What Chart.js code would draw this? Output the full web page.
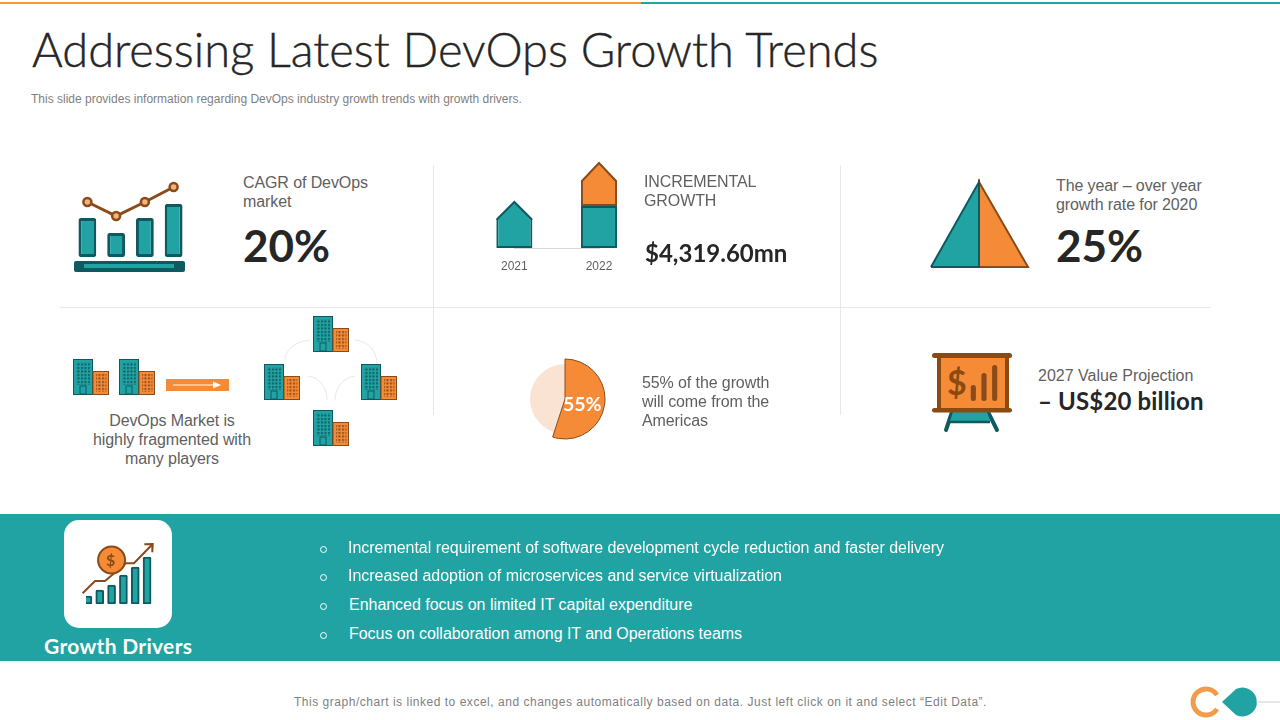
<!DOCTYPE html>
<html>
<head>
<meta charset="utf-8">
<title>Addressing Latest DevOps Growth Trends</title>
<script src="https://cdn.jsdelivr.net/npm/chart.js@4"></script>
<style>
  html, body { margin: 0; padding: 0; background: #fff; }
  #slide { position: relative; width: 1280px; height: 720px; overflow: hidden; font-family: "Liberation Sans", Arial, sans-serif; color: #5f5f5f; }
  #slide > div, #slide > canvas, #slide > svg { position: absolute; }
  .label { font-size: 16px; line-height: 19px; white-space: nowrap; letter-spacing: -0.1px; }
  .big { font-family: Lato, sans-serif; font-weight: 700; color: #262626; white-space: nowrap; }
  .bullet { color: #fff; font-size: 16px; line-height: 20px; white-space: nowrap; letter-spacing: -0.03px; }
  .dot { width: 5px; height: 5px; border: 1px solid #fff; border-radius: 50%; }
</style>
</head>
<body>
<div id="slide">
  <svg width="1280" height="720" style="left:0;top:0">
    <defs>
      <pattern id="winTeal" width="3.5" height="3.5" patternUnits="userSpaceOnUse"><rect x="1" y="1" width="2" height="2" fill="#0f5a60"/></pattern>
      <pattern id="winOrange" width="3.5" height="3.5" patternUnits="userSpaceOnUse"><rect x="1" y="1" width="2" height="2" fill="#8a4a1a"/></pattern>
      <symbol id="building" viewBox="0 0 36 36" width="36" height="36" overflow="visible">
        <rect x="0.5" y="0.5" width="19" height="35" fill="#21a3a3" stroke="#0f5a60"/>
        <rect x="3" y="3" width="14" height="23" fill="url(#winTeal)"/>
        <rect x="7" y="27" width="6" height="8" fill="#21a3a3" stroke="#0f5a60"/>
        <rect x="20" y="12.5" width="15.5" height="23" fill="#f68b37" stroke="#8a4a1a"/>
        <rect x="23" y="15" width="10.5" height="18" fill="url(#winOrange)"/>
      </symbol>
    </defs>
    <rect x="0" y="2" width="641" height="2" fill="#f29b3a"/>
    <rect x="641" y="2" width="639" height="2" fill="#21a3a3"/>
    <g stroke="#e8e8e8" stroke-width="1" fill="none">
      <path d="M433.5 165V415M840.5 165V415M60 307.5H1210"/>
    </g>
    <rect x="74" y="261" width="111" height="11" rx="2" fill="#0f5a60"/>
    <rect x="84" y="264" width="90" height="4" fill="#21a3a3"/>
    <!-- fragmented market -->
    <use href="#building" x="73" y="359"/>
    <use href="#building" x="119" y="359"/>
    <rect x="166" y="379" width="63" height="12" fill="#f68b37"/>
    <path d="M173 385H218" stroke="#fff" stroke-width="1"/>
    <path d="M213 381.5L221 385L213 388.5Z" fill="#fff"/>
    <use href="#building" x="313" y="316"/>
    <use href="#building" x="264" y="364"/>
    <use href="#building" x="361" y="364"/>
    <use href="#building" x="313" y="410"/>
    <g stroke="#e8e8e8" stroke-width="1" fill="none">
      <path d="M285 360C285 350 296 341 310 340M355 340C368 341 376 350 377 363"/>
      <path d="M308 376C322 378 327 390 327 400M355 376C341 378 335 390 335 400"/>
    </g>
    <!-- easel -->
    <path d="M952 412L946 430M988 412L997 430" stroke="#0f5a60" stroke-width="4" stroke-linecap="round"/>
    <path d="M953 412H987L990 421H950Z" fill="#21a3a3"/>
    <path d="M950 422H990" stroke="#0f5a60" stroke-width="2.5"/>
    <rect x="939" y="355" width="68" height="55" fill="#f68b37" stroke="#8a4a12" stroke-width="4"/>
    <rect x="932" y="353" width="80" height="5" rx="2.5" fill="#8a4a12"/>
    <rect x="932" y="408" width="80" height="4.5" rx="2.25" fill="#8a4a12"/>
    <!-- teal band -->
    <rect x="0" y="514" width="1280" height="147" fill="#21a3a3"/>
    <rect x="64" y="520" width="108" height="108" rx="15" fill="#fff"/>
    <!-- logo -->
    <path d="M1217 695A13 13 0 1 0 1217 709" fill="none" stroke="#f29b4a" stroke-width="5"/>
    <path d="M1222 702L1236 689A14.5 14.5 0 1 1 1236 715Z" fill="#21a3a3"/>
    <path d="M1256 702H1280" stroke="#ccc" stroke-width="1"/>
  </svg>

  <div style="left:32px;top:21px;font:300 47px/56px Lato,sans-serif;color:#262626;white-space:nowrap;-webkit-text-stroke:0.4px #262626">Addressing Latest DevOps Growth Trends</div>
  <div style="left:31px;top:92px;font-size:12px;line-height:14px;color:#7f7f7f;white-space:nowrap">This slide provides information regarding DevOps industry growth trends with growth drivers.</div>

  <canvas id="cagrChart" width="115" height="80" style="left:72.5px;top:177px"></canvas>
  <div class="label" style="left:243px;top:173px">CAGR of DevOps<br>market</div>
  <div class="big" style="left:243px;top:217px;font-size:44px;line-height:56px">20%</div>

  <canvas id="incrementChart" width="215" height="129" style="left:490px;top:156px"></canvas>
  <div class="label" style="left:644px;top:172px">INCREMENTAL<br>GROWTH</div>
  <div class="big" style="left:645px;top:238px;font-size:24px;line-height:30px">$4,319.60mn</div>

  <canvas id="triangleChart" width="108" height="94" style="left:926px;top:177px"></canvas>
  <div class="label" style="left:1056px;top:176px">The year – over year<br>growth rate for 2020</div>
  <div class="big" style="left:1056px;top:217px;font-size:44px;line-height:56px">25%</div>

  <div class="label" style="left:72px;top:411px;width:200px;text-align:center">DevOps Market is<br>highly fragmented with<br>many players</div>

  <canvas id="shareBack" width="90" height="90" style="left:520px;top:354px"></canvas>
  <canvas id="shareFront" width="90" height="90" style="left:520px;top:354px"></canvas>
  <div style="left:563px;top:392px;font:700 19.5px/24px Lato,sans-serif;color:#fff">55%</div>
  <div class="label" style="left:642px;top:373px">55% of the growth<br>will come from the<br>Americas</div>

  <canvas id="easelChart" width="32" height="38" style="left:968px;top:363px"></canvas>
  <div style="left:947px;top:363px;font:700 34px/38px Lato,sans-serif;color:#8a4a12">$</div>
  <div class="label" style="left:1038px;top:366px;letter-spacing:0">2027 Value Projection</div>
  <div class="big" style="left:1038px;top:386px;font-size:24px;line-height:30px;letter-spacing:0.15px">– US$20 billion</div>

  <canvas id="driversChart" width="108" height="108" style="left:64px;top:520px"></canvas>
  <div style="left:106px;top:550px;font:700 16px/20px Lato,sans-serif;color:#8a4a12">$</div>
  <div style="left:44px;top:632px;font:700 21px/28px Lato,sans-serif;color:#fff;white-space:nowrap;letter-spacing:0.3px">Growth Drivers</div>

  <div class="dot" style="left:320px;top:546px"></div>
  <div class="bullet" style="left:348px;top:538px">Incremental requirement of software development cycle reduction and faster delivery</div>
  <div class="dot" style="left:320px;top:574px"></div>
  <div class="bullet" style="left:348px;top:566px">Increased adoption of microservices and service virtualization</div>
  <div class="dot" style="left:320px;top:603px"></div>
  <div class="bullet" style="left:349px;top:595px">Enhanced focus on limited IT capital expenditure</div>
  <div class="dot" style="left:320px;top:632px"></div>
  <div class="bullet" style="left:349px;top:624px">Focus on collaboration among IT and Operations teams</div>

  <div style="left:294px;top:695px;font-size:12px;line-height:14px;color:#7f7f7f;white-space:nowrap;letter-spacing:0.52px">This graph/chart is linked to excel, and changes automatically based on data. Just left click on it and select “Edit Data”.</div>
</div>

<script>
const TEAL = '#21a3a3'
const TEAL_DARK = '#0f5a60'
const ORANGE = '#f68b37'
const BROWN = '#8a4a1a'

// CAGR icon
const cagrLabels = ['a', 'b', 'c', 'd']
const cagrBars = [39, 24, 39, 53]
const cagrLine = [55, 41, 55, 70]

// incremental growth
const yearLabels = ['2021', '2022']
const baseValues = [29, 42]
const incrementValues = [null, 25]
const roofValues = [17, 18]

// year over year triangle
const triangleLeftX = [5, 53, 53, 5]
const triangleRightX = [53, 53, 102, 53]
const triangleY = [0, 85, 0, 0]

// regional share
const shareLabels = ['Americas', 'Other']
const shareValues = [55, 45]

// projection easel
const easelLabels = ['a', 'b', 'c']
const easelBars = [16, 28, 36]

// growth drivers icon
const driverLabels = ['a', 'b', 'c', 'd', 'e', 'f']
const driverBars = [8, 14, 19, 29, 37, 47]
const trendX = [-1, 11.4, 21.4, 42.4, 50.4, 68.1]
const trendY = [10.7, 23, 23, 40.7, 40.7, 59]
const arrowX = [60.7, 69.1, 68.7]
const arrowY = [59.7, 60, 51.7]
const coinX = [28]
const coinY = [44]

function xy (xs, ys) {
  return xs.map((x, i) => ({ x, y: ys[i] }))
}

function baseOptions (extra) {
  return Object.assign({
    responsive: false,
    animation: false,
    events: [],
    layout: { autoPadding: false },
    plugins: { legend: { display: false }, tooltip: { enabled: false } }
  }, extra)
}

// draws the roof datasets of the growth chart as a gable instead of a bar
const roofPlugin = {
  id: 'roof',
  beforeDatasetDraw (chart, args) {
    const dataset = chart.data.datasets[args.index]
    if (!dataset.roof) return
    const ctx = chart.ctx
    args.meta.data.forEach((bar, i) => {
      const half = bar.width / 2 - 1
      ctx.save()
      ctx.beginPath()
      ctx.moveTo(bar.x - half, bar.base + 1)
      ctx.lineTo(bar.x - half, bar.base)
      ctx.lineTo(bar.x, bar.y)
      ctx.lineTo(bar.x + half, bar.base)
      ctx.lineTo(bar.x + half, bar.base + 1)
      ctx.fillStyle = dataset.roofFill[i]
      ctx.strokeStyle = dataset.roofStroke[i]
      ctx.lineWidth = 2
      ctx.fill()
      ctx.stroke()
      ctx.restore()
    })
    return false
  }
}

new Chart(document.getElementById('cagrChart'), {
  data: {
    labels: cagrLabels,
    datasets: [
      { type: 'line', data: cagrLine, borderColor: BROWN, borderWidth: 3, pointRadius: 4, pointBorderWidth: 2.5, pointBackgroundColor: '#f3b37d', pointBorderColor: BROWN, clip: false },
      { type: 'bar', data: cagrBars, backgroundColor: TEAL, borderColor: TEAL_DARK, borderWidth: 3, borderRadius: 2, borderSkipped: false, barPercentage: 0.62, categoryPercentage: 1 }
    ]
  },
  options: baseOptions({
    scales: {
      x: { display: false, offset: true },
      y: { display: false, min: 0, max: 80 }
    }
  })
})

new Chart(document.getElementById('incrementChart'), {
  type: 'bar',
  plugins: [roofPlugin],
  data: {
    labels: yearLabels,
    datasets: [
      { label: 'base', data: baseValues, backgroundColor: TEAL, borderColor: TEAL_DARK, borderWidth: 2, borderSkipped: c => c.dataIndex === 0 ? 'top' : false, clip: false },
      { label: 'increment', data: incrementValues, backgroundColor: ORANGE, borderColor: BROWN, borderWidth: 2, borderSkipped: 'top', clip: false },
      { label: 'roof', data: roofValues, roof: true, roofFill: [TEAL, ORANGE], roofStroke: [TEAL_DARK, BROWN], clip: false }
    ]
  },
  options: baseOptions({
    // the x scale keeps half a label plus the tick padding free on the left
    layout: { autoPadding: false, padding: { left: 0, right: 106, bottom: 0.6 } },
    datasets: { bar: { barPercentage: 0.426, categoryPercentage: 1 } },
    scales: {
      x: {
        stacked: true,
        offset: false,
        grid: { display: false, drawTicks: false },
        border: { color: '#d9d9d9' },
        ticks: { color: '#5f5f5f', font: { family: 'Liberation Sans', size: 12 }, padding: 11, maxRotation: 0 }
      },
      y: { display: false, stacked: true, min: 0, max: 92 }
    }
  })
})

new Chart(document.getElementById('triangleChart'), {
  type: 'scatter',
  data: {
    datasets: [
      { data: xy(triangleLeftX, triangleY), showLine: true, fill: 'shape', backgroundColor: TEAL, borderColor: TEAL_DARK, borderWidth: 2, pointRadius: 0, order: 1 },
      { data: xy(triangleRightX, triangleY), showLine: true, fill: 'shape', backgroundColor: ORANGE, borderColor: BROWN, borderWidth: 2, pointRadius: 0, order: 2 }
    ]
  },
  options: baseOptions({
    elements: { line: { tension: 0 } },
    scales: {
      x: { display: false, min: 0, max: 108 },
      y: { display: false, min: -4, max: 90 }
    }
  })
})

new Chart(document.getElementById('shareBack'), {
  type: 'pie',
  data: { labels: shareLabels, datasets: [{ data: shareValues, backgroundColor: ['rgba(0,0,0,0)', '#fbe3d3'], borderWidth: 0 }] },
  options: baseOptions({ radius: 35 })
})

new Chart(document.getElementById('shareFront'), {
  type: 'pie',
  data: { labels: shareLabels, datasets: [{ data: shareValues, backgroundColor: [ORANGE, 'rgba(0,0,0,0)'], borderColor: [BROWN, 'rgba(0,0,0,0)'], borderWidth: 1 }] },
  options: baseOptions({ radius: 40 })
})

new Chart(document.getElementById('easelChart'), {
  type: 'bar',
  data: {
    labels: easelLabels,
    datasets: [{ data: easelBars, backgroundColor: BROWN, borderRadius: 2.5, borderSkipped: false, barPercentage: 0.48, categoryPercentage: 1 }]
  },
  options: baseOptions({
    scales: {
      x: { display: false },
      y: { display: false, min: 0, max: 38 }
    }
  })
})

new Chart(document.getElementById('driversChart'), {
  data: {
    labels: driverLabels,
    datasets: [
      { type: 'bar', data: driverBars, xAxisID: 'x', backgroundColor: TEAL, borderColor: TEAL_DARK, borderWidth: 2, borderRadius: 1.5, borderSkipped: false, barThickness: 8, order: 2 },
      { type: 'scatter', data: xy(trendX, trendY), xAxisID: 'xTrend', showLine: true, borderColor: BROWN, borderWidth: 2, pointRadius: 0, order: 1, clip: false },
      { type: 'scatter', data: xy(arrowX, arrowY), xAxisID: 'xTrend', showLine: true, borderColor: BROWN, borderWidth: 2, pointRadius: 0, order: 1, clip: false },
      { type: 'scatter', data: xy(coinX, coinY), xAxisID: 'xTrend', pointRadius: 13.5, pointBackgroundColor: ORANGE, pointBorderColor: BROWN, pointBorderWidth: 2, order: 0, clip: false }
    ]
  },
  options: baseOptions({
    layout: { autoPadding: false, padding: { left: 22, right: 15, bottom: 24 } },
    scales: {
      x: { type: 'category', display: false, offset: true },
      xTrend: { display: false, type: 'linear', min: 2.4, max: 73.4 },
      y: { display: false, min: 0, max: 84 }
    }
  })
})
</script>
</body>
</html>
